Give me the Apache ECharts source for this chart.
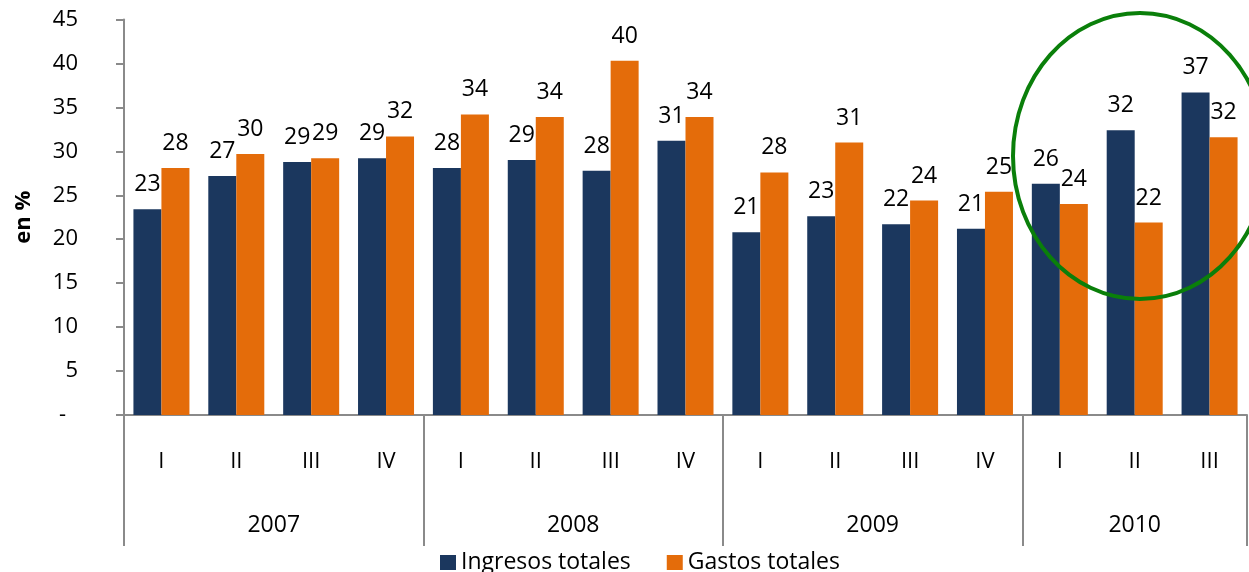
<!DOCTYPE html>
<html lang="es">
<head>
    <meta charset="UTF-8">
    <title>Ingresos y gastos totales</title>
    <style>
        * { margin: 0; padding: 0; }
        #main { width: 1249px; height: 572px; background: #fff; }
    </style>
    <script src="https://cdn.jsdelivr.net/npm/echarts@6/dist/echarts.min.js"></script>
</head>
<body>
    <div id="main"></div>
    <script>
        // datos (en %)
        const quarters = ['I', 'II', 'III', 'IV', 'I', 'II', 'III', 'IV', 'I', 'II', 'III', 'IV', 'I', 'II', 'III'];
        const years = ['2007', '2008', '2009', '2010'];
        const quartersPerYear = [4, 4, 4, 3];
        const ingresos = [23.4, 27.2, 28.8, 29.2, 28.1, 29.0, 27.8, 31.2, 20.8, 22.6, 21.7, 21.2, 26.3, 32.4, 36.7];
        const gastos = [28.1, 29.7, 29.2, 31.7, 34.2, 33.9, 40.3, 33.9, 27.6, 31.0, 24.4, 25.4, 24.0, 21.9, 31.6];

        const FONT = '"Open Sans", sans-serif';
        const axisGray = '#8a8a8a';

        // limites y centros de cada año sobre el eje de trimestres
        const yearBounds = [0];
        const yearMids = [];
        quartersPerYear.forEach((n) => {
            const start = yearBounds[yearBounds.length - 1];
            yearMids.push(start + n / 2);
            yearBounds.push(start + n);
        });

        var chartDom = document.getElementById('main');
        var myChart = echarts.init(chartDom);

        const labelCfg = {
            show: true,
            position: 'top',
            distance: 13,
            color: '#000',
            fontSize: 23,
            fontFamily: FONT,
            formatter: (p) => Math.round(p.value)
        };

        var option = {
            backgroundColor: '#fff',
            animation: false,
            textStyle: { fontFamily: FONT },
            grid: {
                left: 124,
                right: 2,
                top: 19.5,
                bottom: 157
            },
            legend: {
                left: 435,
                top: 546,
                itemWidth: 16,
                itemHeight: 15,
                itemGap: 36,
                icon: 'rect',
                textStyle: { fontSize: 23, color: '#000', fontFamily: FONT },
                data: ['Ingresos totales', 'Gastos totales']
            },
            xAxis: [
                {
                    type: 'category',
                    position: 'bottom',
                    data: quarters,
                    axisLine: { lineStyle: { color: axisGray, width: 2 } },
                    axisTick: { interval: 0, length: 67, lineStyle: { color: axisGray, width: 2 } },
                    axisLabel: { interval: 0, margin: 36, fontSize: 22, color: '#000', fontFamily: FONT }
                },
                {
                    type: 'value',
                    position: 'bottom',
                    min: 0,
                    max: quarters.length,
                    axisLine: { show: false },
                    splitLine: { show: false },
                    axisTick: {
                        show: true,
                        customValues: yearBounds,
                        length: 131,
                        lineStyle: { color: axisGray, width: 2 }
                    },
                    axisLabel: {
                        customValues: yearMids,
                        margin: 99,
                        fontSize: 23,
                        color: '#000',
                        fontFamily: FONT,
                        formatter: (v) => years[yearMids.indexOf(v)]
                    }
                }
            ],
            yAxis: {
                type: 'value',
                min: 0,
                max: 45,
                interval: 5,
                name: 'en %',
                nameLocation: 'middle',
                nameGap: 89,
                nameTextStyle: { fontSize: 22, fontWeight: 'bold', color: '#000', fontFamily: FONT },
                axisLine: { show: true, lineStyle: { color: axisGray, width: 2 } },
                axisTick: { show: true, length: 8, lineStyle: { color: axisGray, width: 2 } },
                splitLine: { show: false },
                axisLabel: {
                    margin: 46,
                    fontSize: 22,
                    color: '#000',
                    fontFamily: FONT,
                    formatter: (v) => (v === 0 ? '{z|-}' : v),
                    rich: { z: { fontSize: 22, padding: [0, 12, 0, 0], fontFamily: FONT } }
                }
            },
            series: [
                {
                    name: 'Ingresos totales',
                    type: 'bar',
                    data: ingresos,
                    barWidth: 28,
                    barGap: '0%',
                    itemStyle: { color: '#1b375e' },
                    label: labelCfg
                },
                {
                    name: 'Gastos totales',
                    type: 'bar',
                    data: gastos,
                    barWidth: 28,
                    barGap: '0%',
                    itemStyle: { color: '#e46c0a' },
                    label: labelCfg
                }
            ],
            // círculo verde que resalta 2010
            graphic: [
                {
                    type: 'ellipse',
                    z: 100,
                    shape: { cx: 1140, cy: 156, rx: 127, ry: 143 },
                    style: { fill: 'none', stroke: '#0a7f0a', lineWidth: 4 }
                }
            ]
        };

        option && myChart.setOption(option);
    </script>
</body>
</html>
